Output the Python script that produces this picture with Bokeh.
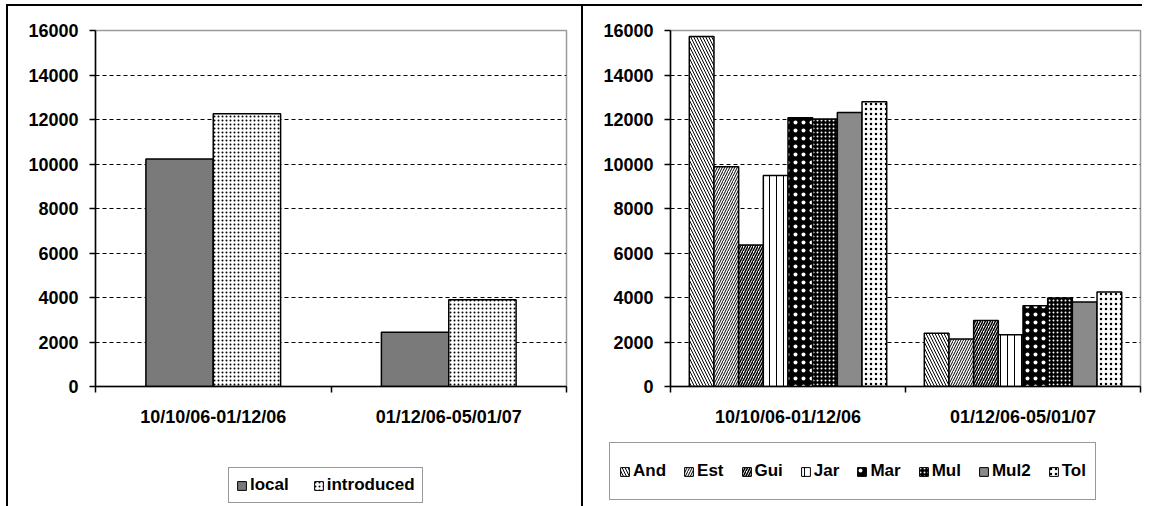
import numpy as np
from bokeh.plotting import figure
from bokeh.layouts import row, column
from bokeh.models import FixedTicker, Range1d, Legend, LegendItem
from bokeh.embed import file_html
from bokeh.resources import INLINE

periods = ["10/10/06-01/12/06", "01/12/06-05/01/07"]
y_ticks = [0, 2000, 4000, 6000, 8000, 10000, 12000, 14000, 16000]

# left chart
local = [10230, 2440]
introduced = [12260, 3900]

# right chart
sites = ["And", "Est", "Gui", "Jar", "Mar", "Mul", "Mul2", "Tol"]
and_v = [15730, 2390]
est_v = [9880, 2140]
gui_v = [6360, 2970]
jar_v = [9480, 2330]
mar_v = [12080, 3630]
mul_v = [12020, 3980]
mul2_v = [12320, 3800]
tol_v = [12800, 4250]

FONT = "Liberation Sans"
MAIN_H = 436
LEG_H = 66


def base_fig(width, left_border, right_border):
    p = figure(width=width, height=MAIN_H, output_backend="svg", toolbar_location=None,
               x_range=Range1d(0, len(periods)), y_range=Range1d(0, 16000),
               min_border_left=left_border, min_border_right=right_border,
               min_border_top=24, min_border_bottom=56)
    p.frame_align = False
    p.background_fill_color = "white"
    p.border_fill_color = None
    p.outline_line_color = "#9a9a9a"
    p.outline_line_width = 1.5
    p.xgrid.visible = False
    p.ygrid.ticker = FixedTicker(ticks=y_ticks[1:-1])
    p.ygrid.grid_line_color = "black"
    p.ygrid.grid_line_dash = "4 3"
    p.ygrid.grid_line_width = 1
    p.yaxis.ticker = FixedTicker(ticks=y_ticks)
    p.yaxis.minor_tick_line_color = None
    p.yaxis.major_tick_in = 0
    p.yaxis.major_tick_out = 6
    p.yaxis.major_label_standoff = 11
    centers = [i + 0.5 for i in range(len(periods))]
    p.xaxis.ticker = FixedTicker(ticks=centers, minor_ticks=list(range(len(periods) + 1)))
    p.xaxis.major_label_overrides = {c: lab for c, lab in zip(centers, periods)}
    p.xaxis.major_tick_in = 0
    p.xaxis.major_tick_out = 0
    p.xaxis.minor_tick_in = 0
    p.xaxis.minor_tick_out = 6
    p.xaxis.major_label_standoff = 14
    for ax in (p.xaxis, p.yaxis):
        ax.axis_line_color = "black"
        ax.axis_line_width = 1.5
        ax.major_tick_line_color = "black"
        ax.major_tick_line_width = 1.5
        ax.major_label_text_font = FONT
        ax.major_label_text_font_style = "bold"
        ax.major_label_text_font_size = "18px"
        ax.major_label_text_color = "black"
    p.xaxis.minor_tick_line_color = "black"
    p.xaxis.minor_tick_line_width = 1.5
    return p


def legend_fig(width, names, series, styles, bw, loc, padding, spacing, label_h):
    # separate strip holding only the legend; its bar renderers stay hidden
    q = figure(width=width, height=LEG_H, output_backend="svg", toolbar_location=None,
               x_range=Range1d(0, len(periods)), y_range=Range1d(0, 16000),
               x_axis_type=None, y_axis_type=None,
               min_border_left=0, min_border_right=0, min_border_top=0, min_border_bottom=0)
    q.frame_align = False
    q.grid.visible = False
    q.outline_line_color = None
    q.border_fill_color = None
    q.background_fill_color = None
    items = []
    m = len(series)
    for k, (name, vals, st) in enumerate(zip(names, series, styles)):
        xs = idx + 0.5 + (k - (m - 1) / 2) * bw
        r = q.vbar(x=xs, top=vals, width=bw, line_color="black", line_width=1, visible=False, **st)
        items.append(LegendItem(label=name, renderers=[r]))
    lg = Legend(items=items, orientation="horizontal", location=loc)
    lg.border_line_color = "#333333"
    lg.border_line_width = 1.5
    lg.label_text_font = FONT
    lg.label_text_font_style = "bold"
    lg.label_text_font_size = "17px"
    lg.label_text_color = "black"
    lg.label_height = label_h
    lg.glyph_width = 11
    lg.glyph_height = 11
    lg.label_standoff = 3
    lg.spacing = spacing
    lg.padding = padding
    lg.margin = 0
    lg.background_fill_color = "white"
    lg.inactive_fill_alpha = 0
    q.add_layout(lg)
    return q


idx = np.arange(len(periods))

# ---------------- left chart ----------------
p1 = base_fig(577, 87, 19)
bw1 = 0.286
left_names = ["local", "introduced"]
left_vals = [local, introduced]
left_styles = [
    dict(fill_color="#7a7a7a"),
    dict(fill_color="white", hatch_pattern="dot", hatch_color="black", hatch_scale=4, hatch_weight=0.7),
]
for k, (vals, st) in enumerate(zip(left_vals, left_styles)):
    xs = idx + 0.5 + (k - (len(left_vals) - 1) / 2) * bw1
    p1.vbar(x=xs, top=vals, width=bw1, line_color="black", line_width=1.5, **st)
l1 = legend_fig(577, left_names, left_vals, left_styles, bw1, (220, 3), 7, 24, 20)

# ---------------- right chart ----------------
p2 = base_fig(559, 87, 2)
bw2 = 0.105
right_styles = [
    dict(fill_color="white", hatch_pattern="left_diagonal_line", hatch_color="black", hatch_scale=6, hatch_weight=1),
    dict(fill_color="white", hatch_pattern="right_diagonal_line", hatch_color="black", hatch_scale=5, hatch_weight=1),
    dict(fill_color="white", hatch_pattern="right_diagonal_line", hatch_color="black", hatch_scale=5, hatch_weight=1.5),
    dict(fill_color="white", hatch_pattern="vertical_line", hatch_color="black", hatch_scale=7, hatch_weight=1),
    dict(fill_color="black", hatch_pattern="dot", hatch_color="white", hatch_scale=8, hatch_weight=0.45),
    dict(fill_color="black", hatch_pattern="dot", hatch_color="white", hatch_scale=4, hatch_weight=0.55),
    dict(fill_color="#8a8a8a"),
    dict(fill_color="white", hatch_pattern="dot", hatch_color="black", hatch_scale=5, hatch_weight=0.7),
]
right_vals = [and_v, est_v, gui_v, jar_v, mar_v, mul_v, mul2_v, tol_v]
n = len(sites)
for k, (vals, st) in enumerate(zip(right_vals, right_styles)):
    xs = idx + 0.5 + (k - (n - 1) / 2) * bw2
    p2.vbar(x=xs, top=vals, width=bw2, line_color="black", line_width=1.5, **st)
l2 = legend_fig(559, sites, right_vals, right_styles, bw2, (26, 6), 9, 17, 38)

p1.styles = {"border-left": "2px solid black", "border-top": "2px solid black",
             "border-right": "2px solid black", "margin-left": "6px", "margin-top": "4px"}
l1.styles = {"border-left": "2px solid black", "border-right": "2px solid black",
             "margin-left": "6px"}
p2.styles = {"border-top": "2px solid black", "margin-top": "4px"}

layout = row(column(p1, l1, spacing=0), column(p2, l2, spacing=0), spacing=0)
open("out.html", "w").write(file_html(layout, INLINE))
